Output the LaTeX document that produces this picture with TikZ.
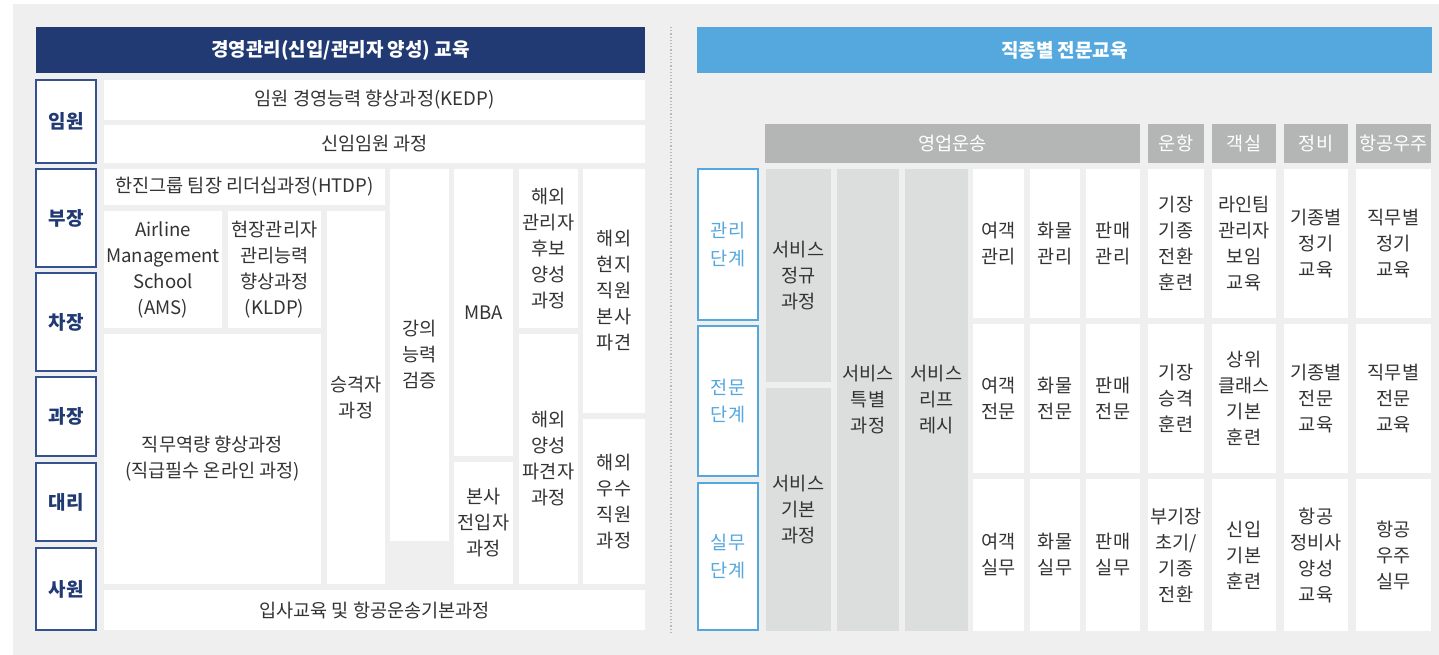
\documentclass[tikz,border=0pt]{standalone}
\usepackage{fontspec}
\setmainfont{Noto Sans CJK KR}
\definecolor{bg}{HTML}{EFEFEF}
\definecolor{navy}{HTML}{213A73}
\definecolor{navyline}{HTML}{34528F}
\definecolor{lblue}{HTML}{55A8DE}
\definecolor{gbar}{HTML}{B4B5B5}
\definecolor{gcellc}{HTML}{DCDDDD}
\definecolor{txt}{HTML}{333333}
\newcommand\bx[7]{\node[#1, minimum width={(#5-#3)*1pt}, minimum height={(#6-#4)*1pt}] (#2) at ({(#3+#5)/2},{(#4+#6)/2}) {#7};}
\tikzset{
  base/.style={inner sep=0pt, outer sep=0pt, align=center},
  cell/.style={base, fill=white, text=txt, font=\fontsize{18.6}{26}\selectfont},
  gcell/.style={cell, fill=gcellc},
  lbl/.style={base, draw=navyline, line width=1.3pt, fill=white, text=navy, font=\fontsize{19}{26}\selectfont\bfseries},
  stg/.style={base, draw=lblue, line width=1.3pt, fill=white, text=lblue, font=\fontsize{18.6}{27.5}\selectfont},
  hdrL/.style={base, fill=navy, text=white, font=\fontsize{19}{26}\selectfont\bfseries},
  hdrR/.style={base, fill=lblue, text=white, font=\fontsize{19}{26}\selectfont\bfseries},
  bar/.style={base, fill=gbar, text=white, font=\fontsize{18.6}{26}\selectfont},
  sep/.style={draw=gray!55, line width=1.2pt, dotted}
}
\begin{document}
\begin{tikzpicture}[x=1pt,y=-1pt]
\useasboundingbox (0,0) rectangle (1439,655);
\fill[white] (0,0) rectangle (1439,655);
\fill[bg] (13,4) rectangle (1439,655);
% left header
\bx{hdrL}{hL}{36}{27}{645}{73}{경영관리(신입/관리자 양성) 교육}
% rank labels
\bx{lbl}{r1}{36}{80}{96}{163}{임원}
\bx{lbl}{r2}{36}{169}{96}{267}{부장}
\bx{lbl}{r3}{36}{273}{96}{371}{차장}
\bx{lbl}{r4}{36}{377}{96}{456}{과장}
\bx{lbl}{r5}{36}{463}{96}{541}{대리}
\bx{lbl}{r6}{36}{548}{96}{630}{사원}
% left cells
\bx{cell}{kedp}{104}{80}{645}{120}{임원 경영능력 향상과정(KEDP)}
\bx{cell}{sinim}{104}{125}{645}{163}{신임임원 과정}
\bx{cell}{htdp}{104}{169}{385}{205}{한진그룹 팀장 리더십과정(HTDP)}
\bx{cell}{ams}{104}{211}{222}{328}{Airline\\Management\\School\\(AMS)}
\bx{cell}{kldp}{228}{211}{321}{328}{현장관리자\\관리능력\\향상과정\\(KLDP)}
\bx{cell}{jikmu}{104}{334}{321}{584}{직무역량 향상과정\\(직급필수 온라인 과정)}
\bx{cell}{seung}{327}{211}{385}{584}{승격자\\과정}
\bx{cell}{gang}{390}{169}{449}{541}{강의\\능력\\검증}
\bx{cell}{mba}{454}{169}{513}{456}{MBA}
\bx{cell}{bonsa}{454}{462}{513}{584}{본사\\전입자\\과정}
\bx{cell}{hw1}{519}{169}{578}{328}{해외\\관리자\\후보\\양성\\과정}
\bx{cell}{hw2}{519}{334}{578}{584}{해외\\양성\\파견자\\과정}
\bx{cell}{hw3}{583}{169}{645}{413}{해외\\현지\\직원\\본사\\파견}
\bx{cell}{hw4}{583}{419}{645}{584}{해외\\우수\\직원\\과정}
\bx{cell}{ipsa}{104}{590}{645}{630}{입사교육 및 항공운송기본과정}
% separator
\coordinate (sepT) at (671,27);
\coordinate (sepB) at (671,632);
\draw[sep] (sepT) -- (sepB);
% right header
\bx{hdrR}{hR}{697}{27}{1432}{73}{직종별 전문교육}
% stage labels
\bx{stg}{s1}{698}{169}{758}{320}{관리\\단계}
\bx{stg}{s2}{698}{326}{758}{476}{전문\\단계}
\bx{stg}{s3}{698}{483}{758}{630}{실무\\단계}
% category bars
\bx{bar}{c1}{765}{124}{1140}{163}{영업운송}
\bx{bar}{c2}{1148}{124}{1204}{163}{운항}
\bx{bar}{c3}{1212}{124}{1276}{163}{객실}
\bx{bar}{c4}{1284}{124}{1348}{163}{정비}
\bx{bar}{c5}{1356}{124}{1431}{163}{항공우주}
% grey cells
\bx{gcell}{sv1}{766}{169}{831}{382}{서비스\\정규\\과정}
\bx{gcell}{sv2}{766}{388}{831}{631}{서비스\\기본\\과정}
\bx{gcell}{sv3}{837}{169}{899}{631}{서비스\\특별\\과정}
\bx{gcell}{sv4}{905}{169}{968}{631}{서비스\\리프\\레시}
% white cells, row 1
\bx{cell}{a1}{973}{169}{1024}{318}{여객\\관리}
\bx{cell}{b1}{1030}{169}{1080}{318}{화물\\관리}
\bx{cell}{d1}{1086}{169}{1140}{318}{판매\\관리}
\bx{cell}{e1}{1148}{169}{1204}{318}{기장\\기종\\전환\\훈련}
\bx{cell}{f1}{1212}{169}{1276}{318}{라인팀\\관리자\\보임\\교육}
\bx{cell}{g1}{1284}{169}{1348}{318}{기종별\\정기\\교육}
\bx{cell}{h1}{1356}{169}{1431}{318}{직무별\\정기\\교육}
% row 2
\bx{cell}{a2}{973}{324}{1024}{473}{여객\\전문}
\bx{cell}{b2}{1030}{324}{1080}{473}{화물\\전문}
\bx{cell}{d2}{1086}{324}{1140}{473}{판매\\전문}
\bx{cell}{e2}{1148}{324}{1204}{473}{기장\\승격\\훈련}
\bx{cell}{f2}{1212}{324}{1276}{473}{상위\\클래스\\기본\\훈련}
\bx{cell}{g2}{1284}{324}{1348}{473}{기종별\\전문\\교육}
\bx{cell}{h2}{1356}{324}{1431}{473}{직무별\\전문\\교육}
% row 3
\bx{cell}{a3}{973}{479}{1024}{631}{여객\\실무}
\bx{cell}{b3}{1030}{479}{1080}{631}{화물\\실무}
\bx{cell}{d3}{1086}{479}{1140}{631}{판매\\실무}
\bx{cell}{e3}{1148}{479}{1204}{631}{부기장\\초기/\\기종\\전환}
\bx{cell}{f3}{1212}{479}{1276}{631}{신입\\기본\\훈련}
\bx{cell}{g3}{1284}{479}{1348}{631}{항공\\정비사\\양성\\교육}
\bx{cell}{h3}{1356}{479}{1431}{631}{항공\\우주\\실무}
\end{tikzpicture}
\end{document}
